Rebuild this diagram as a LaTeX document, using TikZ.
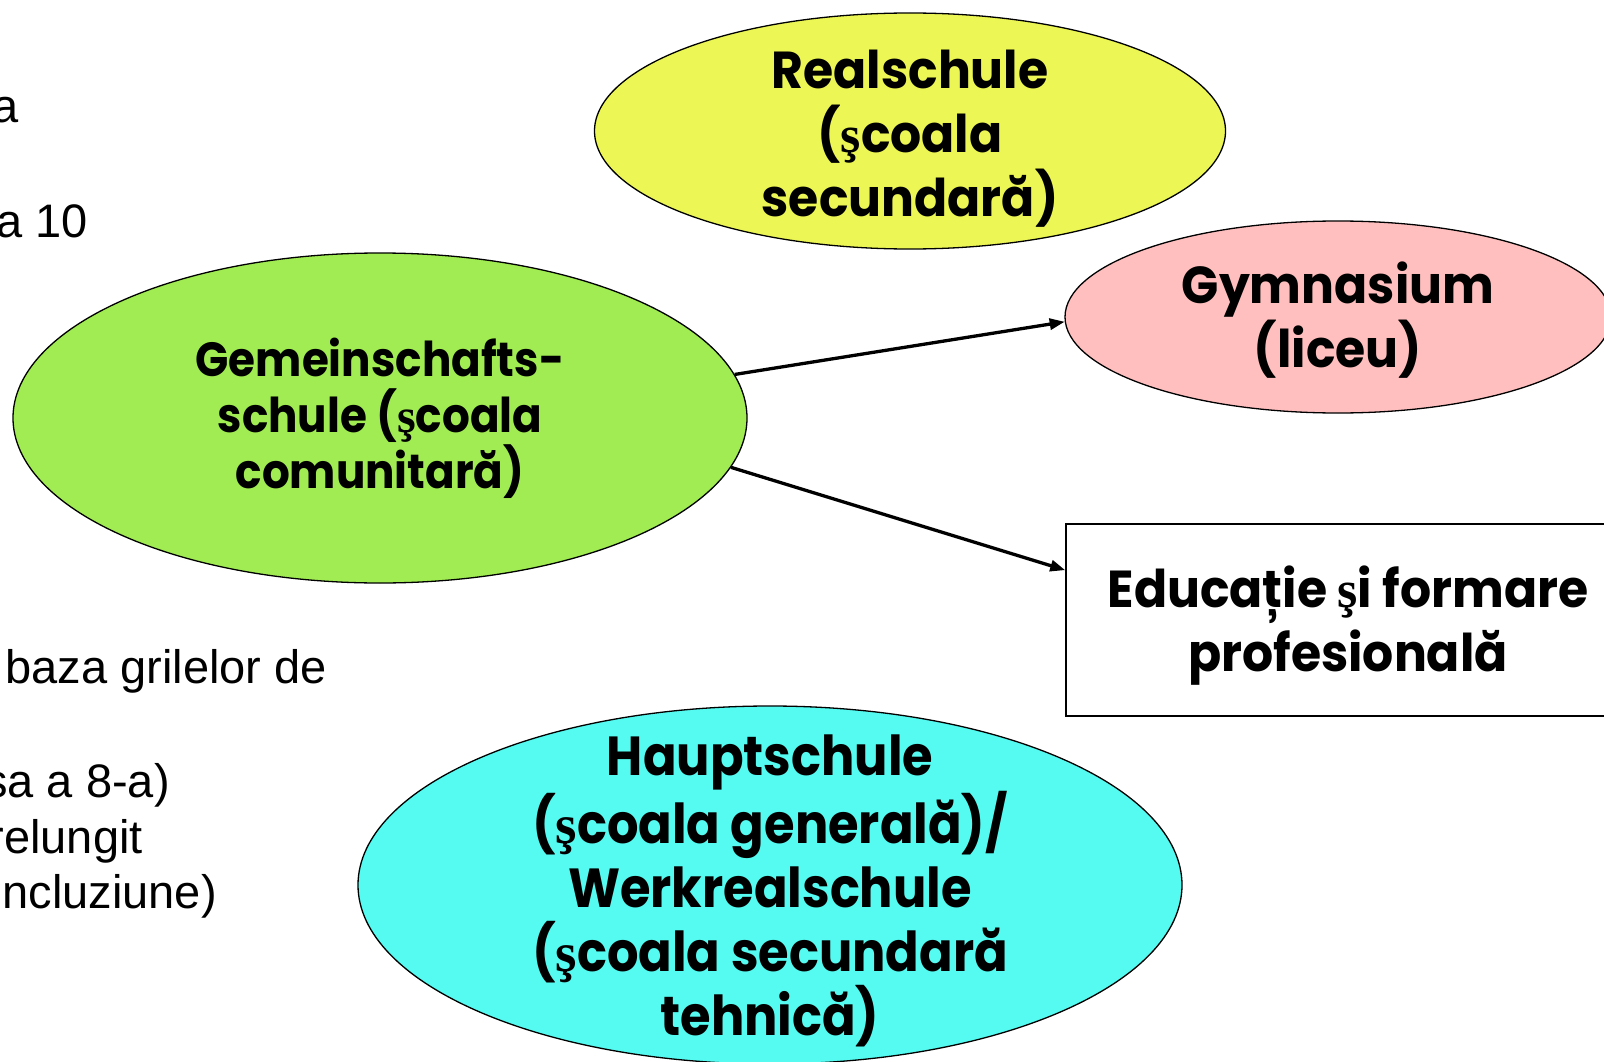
\documentclass[tikz,border=0pt]{standalone}
\usepackage{fontspec}
\setmainfont{Liberation Sans}
\newfontfamily\gfont{Poppins}[FakeStretch=0.94]
\newfontfamily\gfontn{Poppins}[FakeStretch=0.91]
\newfontfamily\gcond{Poppins}[FakeStretch=0.9]
\newfontfamily\sfnt{Liberation Serif}
\newcommand{\cs}{{\sfnt ş}}
\usetikzlibrary{shapes.geometric,arrows.meta}
\definecolor{yellowC}{RGB}{236,246,84}
\definecolor{pinkC}{RGB}{255,191,191}
\definecolor{greenC}{RGB}{161,236,82}
\definecolor{cyanC}{RGB}{85,250,240}
\begin{document}
\begin{tikzpicture}[x=1pt,y=-1pt,
  oval/.style={ellipse,draw=black,line width=1.3pt,inner sep=0pt},
  label/.style={inner sep=0pt,align=center,font=\gfont\bfseries\fontsize{52}{64}\selectfont},
  conn/.style={line width=3.3pt,-{Triangle[length=15pt,width=11pt]}},
  side/.style={anchor=base east,font=\fontsize{47}{54}\selectfont,inner sep=0pt}]
\useasboundingbox (0,0) rectangle (1604,1062);
\clip (0,0) rectangle (1604,1062);
\fill[white] (0,0) rectangle (1604,1062);
% side text fragments
\node[side] (t1) at (19,123) {a};
\node[side] (t2) at (88,237) {a 10};
\node[side] (t3) at (327,683) {baza grilelor de};
\node[side] (t4) at (170,797) {sa a 8-a)};
\node[side] (t5) at (143,853) {relungit};
\node[side] (t6) at (217,908) {ncluziune)};
% shapes
\node[oval,fill=yellowC,minimum width=631pt,minimum height=236pt] (realE) at (910,131) {};
\node[oval,fill=pinkC,minimum width=546pt,minimum height=192pt] (gym) at (1338,317) {};
\node[oval,fill=greenC,minimum width=734pt,minimum height=330pt] (gem) at (380,418) {};
\node[draw=black,line width=1.5pt,fill=white,minimum width=564pt,minimum height=192pt,
  inner sep=0pt] (vet) at (1348,620) {};
\node[oval,fill=cyanC,minimum width=824pt,minimum height=358pt] (hauptE) at (770,885) {};
% texts
\node[label] (real) at (910,139) {Realschule\\(\cs coala\\secundară)};
\node[label] (gymT) at (1338,320) {Gymnasium\\(liceu)};
\node[label,font=\gfontn\bfseries\fontsize{48}{56}\selectfont] (gemT) at (380,418)
  {Gemeinschafts-\\schule (\cs coala\\comunitară)};
\node[label] (vetT) at (1348,626) {Educație \cs i formare\\profesională};
\node[label,font=\gcond\bfseries\fontsize{55}{64}\selectfont] (haupt) at (770,891)
  {Hauptschule\\(\cs coala generală)/\\Werkrealschule\\(\cs coala secundară\\tehnică)};
% connectors
\draw[conn] (gem.7) -- (gym.181);
\draw[conn] (gem.352) -- (vet.170);
\end{tikzpicture}
\end{document}
